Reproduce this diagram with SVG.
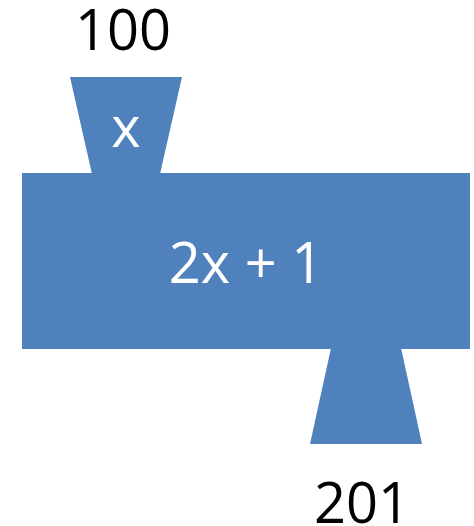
<svg xmlns="http://www.w3.org/2000/svg" width="474" height="526" viewBox="0 0 474 526">
<style>
.shape{fill:#4F81BD;stroke:none}
.t{font-family:"Open Sans","Liberation Sans",sans-serif;font-size:56px;text-anchor:middle}
.w{fill:#FFFFFF}
.k{fill:#000000}
</style>
<rect width="474" height="526" fill="#FFFFFF"/>
<g id="connectors"></g>
<g id="input">
<polygon class="shape" points="70,77 182,77 160,174 92,174"/>
<text class="t w" x="126" y="147">x</text>
</g>
<g id="function">
<rect class="shape" x="22" y="173" width="448" height="176"/>
<text class="t w" x="246" y="283">2x + 1</text>
</g>
<g id="output">
<polygon class="shape" points="331,348 401,348 422,444 310,444"/>
</g>
<g id="label-in">
<text class="t k" x="123" y="50">100</text>
</g>
<g id="label-out">
<text class="t k" x="362" y="523">201</text>
</g>
</svg>
